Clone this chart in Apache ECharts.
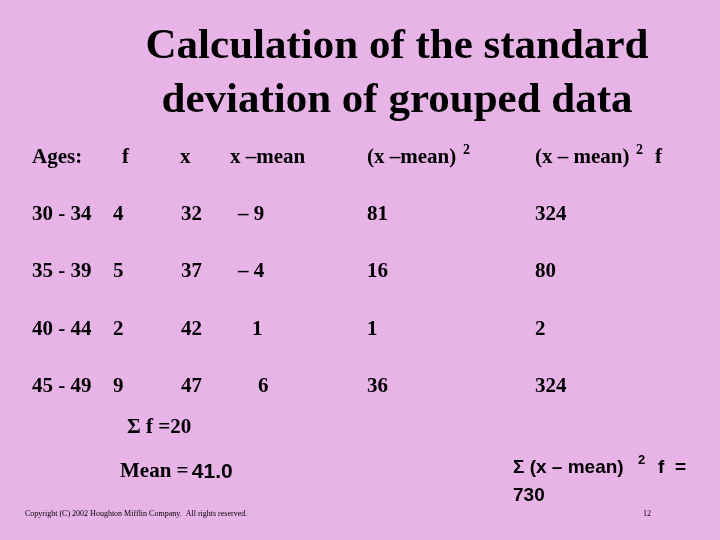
<!DOCTYPE html>
<html><head><meta charset="utf-8">
<script src="https://cdn.jsdelivr.net/npm/echarts@6/dist/echarts.min.js"></script>
<style>html,body{margin:0;padding:0;background:#E8B4E8}#c{width:720px;height:540px}</style>
</head><body><div id="c"></div>
<script>
const titleLines = ['Calculation of the standard', 'deviation of grouped data'];
const ages = ['30 - 34', '35 - 39', '40 - 44', '45 - 49'];
const freq = [4, 5, 2, 9];
const mids = [32, 37, 42, 47];
const deviations = ['– 9', '– 4', '1', '6'];
const squares = [81, 16, 1, 36];
const products = [324, 80, 2, 324];
const sumF = 20;
const meanValue = '41.0';
const sumProducts = 730;

const serif = '"Liberation Serif","Times New Roman",serif';
const sans = '"Liberation Sans",Arial,sans-serif';
const els = [];
function tx(x, y, text, size, family, bold) {
  els.push({type:'text', x:x, y:y, style:{text:text, fill:'#000', font:(bold===false?'':'bold ')+size+'px '+(family||serif), verticalAlign:'middle', align:'left'}});
}
els.push({type:'text', x:397, y:47, style:{text:titleLines[0], fill:'#000', font:'bold 43px '+serif, align:'center', verticalAlign:'middle'}});
els.push({type:'text', x:397, y:101, style:{text:titleLines[1], fill:'#000', font:'bold 43px '+serif, align:'center', verticalAlign:'middle'}});
// header
tx(32,158,'Ages:',21); tx(122,158,'f',21); tx(180,158,'x',21); tx(230,158,'x –mean',21);
tx(367,158,'(x –mean)',21); tx(463,150,'2',14);
tx(535,158,'(x – mean)',21); tx(636,150,'2',14); tx(655,158,'f',21);
// rows
const rowY = [215, 272, 330, 387];
const devX = [238, 238, 252, 258];
ages.forEach((a,i)=>{
  const y = rowY[i];
  tx(32,y,a,21); tx(113,y,String(freq[i]),21); tx(181,y,String(mids[i]),21);
  tx(devX[i],y,deviations[i],21); tx(367,y,String(squares[i]),21); tx(535,y,String(products[i]),21);
});
tx(127,428,'Σ f =' + sumF,21);
els.push({type:'text', x:120, y:472, style:{text:'{a|Mean =} {b|'+meanValue+'}', verticalAlign:'middle',
  rich:{a:{font:'bold 21px '+serif, fill:'#000'}, b:{font:'bold 21px '+sans, fill:'#000'}}}});
tx(513,468,'Σ (x – mean)',19,sans); tx(638,460,'2',13,sans); tx(658,468,'f  =',19,sans);
tx(513,496,String(sumProducts),19,sans);
tx(25,514,'Copyright (C) 2002 Houghton Mifflin Company.  All rights reserved.',8,serif,false);
tx(643,514,'12',8,serif,false);

const chart = echarts.init(document.getElementById('c'));
chart.setOption({backgroundColor:'#E8B4E8', graphic:{elements:els}});
</script></body></html>
